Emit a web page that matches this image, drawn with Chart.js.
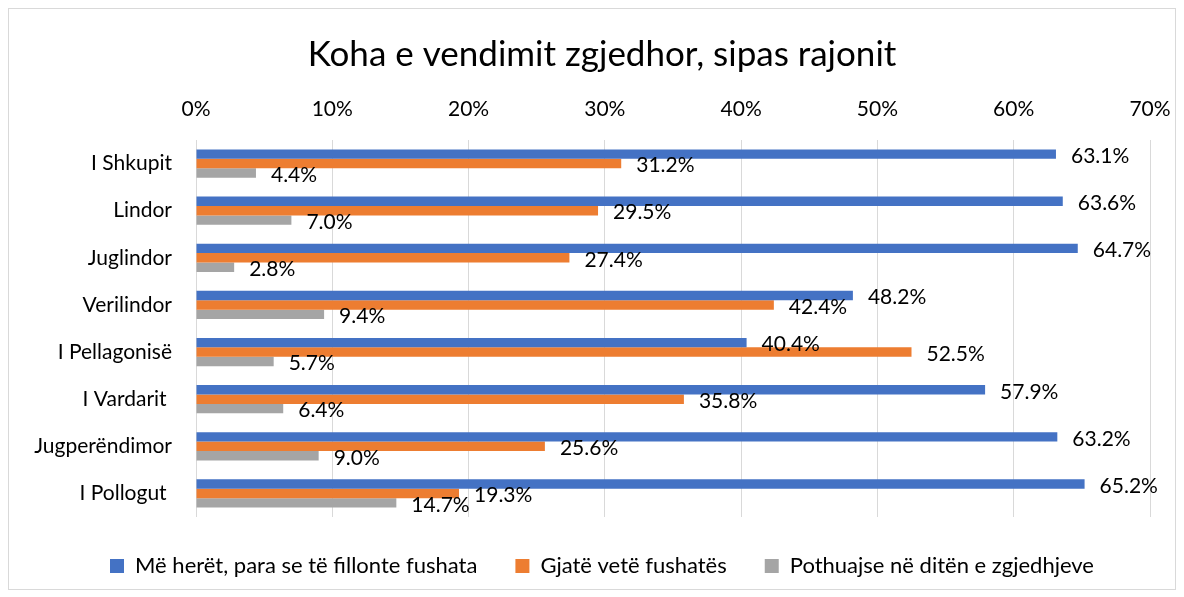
<!DOCTYPE html>
<html>
<head>
<meta charset="utf-8">
<script src="https://cdn.jsdelivr.net/npm/chart.js@4"></script>
<style>
    body { margin: 0; background: #fff; }
    #wrap { position: absolute; left: 8px; top: 8px; width: 1166px; height: 580px; border: 1px solid #d9d9d9; }
</style>
</head>
<body>
<div id="wrap"><canvas id="regionChart" width="1166" height="580"></canvas></div>
<script>
    const regions = ['I Shkupit', 'Lindor', 'Juglindor', 'Verilindor', 'I Pellagonisë', 'I Vardarit ', 'Jugperëndimor', 'I Pollogut '];
    const seriesNames = ['Më herët, para se të fillonte fushata', 'Gjatë vetë fushatës', 'Pothuajse në ditën e zgjedhjeve'];
    const beforeCampaign = [63.1, 63.6, 64.7, 48.2, 40.4, 57.9, 63.2, 65.2];
    const duringCampaign = [31.2, 29.5, 27.4, 42.4, 52.5, 35.8, 25.6, 19.3];
    const electionDay = [4.4, 7.0, 2.8, 9.4, 5.7, 6.4, 9.0, 14.7];
    const colors = ['#4472C4', '#ED7D31', '#A5A5A5'];
    const fontFamily = 'Lato, "Open Sans", sans-serif';

    // draws the value next to the end of each bar
    const valueLabels = {
        id: 'valueLabels',
        afterDatasetsDraw(chart) {
            const ctx = chart.ctx;
            ctx.save();
            ctx.font = '21px ' + fontFamily;
            ctx.fillStyle = '#000';
            ctx.textAlign = 'left';
            ctx.textBaseline = 'middle';
            chart.data.datasets.forEach((ds, i) => {
                chart.getDatasetMeta(i).data.forEach((bar, j) => {
                    ctx.fillText(ds.data[j].toFixed(1) + '%', bar.x + 15, bar.y + 2);
                });
            });
            ctx.restore();
        }
    };

    const datasets = [beforeCampaign, duringCampaign, electionDay].map((values, i) => ({
        label: seriesNames[i],
        data: values,
        backgroundColor: colors[i],
        borderWidth: 0,
        categoryPercentage: 0.6,
        barPercentage: 1.0
    }));

    new Chart(document.getElementById('regionChart').getContext('2d'), {
        type: 'bar',
        data: { labels: regions, datasets: datasets },
        plugins: [valueLabels],
        options: {
            indexAxis: 'y',
            responsive: false,
            animation: false,
            layout: { padding: { left: 24, right: 4, top: 0, bottom: 2 } },
            plugins: {
                title: {
                    display: true,
                    text: 'Koha e vendimit zgjedhor, sipas rajonit',
                    color: '#000',
                    font: { family: fontFamily, size: 35, weight: 'normal' },
                    padding: { top: 25, bottom: 0 }
                },
                legend: {
                    position: 'bottom',
                    labels: {
                        color: '#000',
                        font: { family: fontFamily, size: 22 },
                        boxWidth: 14,
                        boxHeight: 14,
                        padding: 38
                    }
                },
                tooltip: { enabled: false }
            },
            scales: {
                x: {
                    position: 'top',
                    min: 0,
                    max: 70,
                    ticks: {
                        stepSize: 10,
                        color: '#000',
                        padding: 18,
                        font: { family: fontFamily, size: 21 },
                        callback: v => v + '%'
                    },
                    grid: { color: '#d9d9d9', drawTicks: false },
                    border: { display: false },
                    afterFit: scale => {
                        scale.height = 64;
                        scale.paddingLeft = 0;
                        scale.paddingRight = 25;
                    }
                },
                y: {
                    ticks: {
                        color: '#000',
                        padding: 24,
                        font: { family: fontFamily, size: 21 }
                    },
                    grid: { display: false, drawTicks: false },
                    border: { display: false },
                    afterFit: scale => { scale.width = 163; }
                }
            }
        }
    });
</script>
</body>
</html>
